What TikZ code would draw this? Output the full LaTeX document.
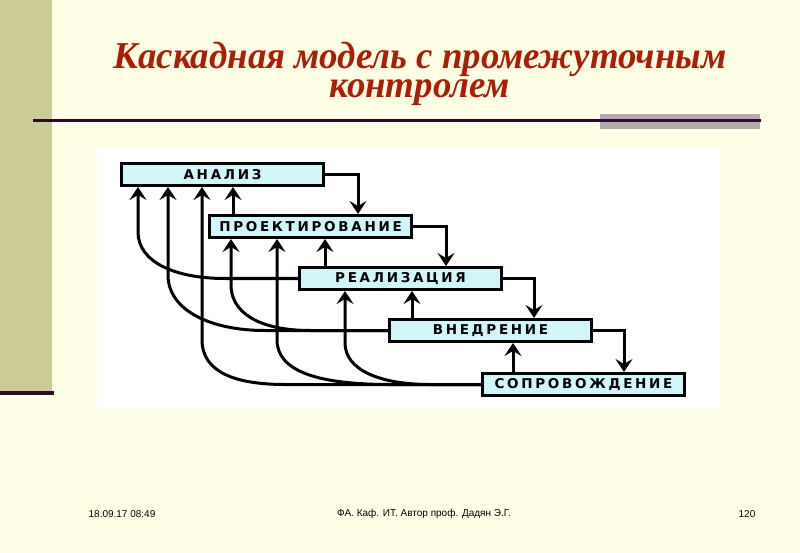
\documentclass[tikz,border=0pt]{standalone}
\usepackage{fontspec}
\setmainfont{Liberation Serif}
\newfontfamily\boxfont[LetterSpace=20]{DejaVu Sans}
\newfontfamily\footfont{Liberation Sans}
\usetikzlibrary{positioning,arrows.meta}

\definecolor{slidebg}{RGB}{255,255,229}
\definecolor{sidebar}{RGB}{204,204,153}
\definecolor{rulecol}{RGB}{43,10,43}
\definecolor{greybar}{RGB}{178,170,175}
\definecolor{titlered}{RGB}{170,30,8}
\definecolor{boxfill}{RGB}{208,246,250}

\begin{document}
\begin{tikzpicture}[x=1pt, y=-1pt, node distance=27pt,
    box/.style={draw, line width=3pt, fill=boxfill, minimum width=202pt, minimum height=22pt, inner sep=0pt, font=\boxfont\bfseries\fontsize{13.5}{13.5}\selectfont},
    arr/.style={draw, line width=3pt, -{Stealth[length=13pt, width=17pt, inset=5pt]}},
    title/.style={anchor=base, inner sep=0pt, text=titlered, xscale=0.97, font=\fontsize{38}{31}\selectfont\bfseries\itshape},
    foot/.style={font=\footfont\fontsize{10}{10}\selectfont}]
    % slide
    \useasboundingbox (0,0) rectangle (800,553);
    \fill[slidebg] (0,0) rectangle (800,553);
    \fill[sidebar] (0,0) rectangle (52,391);
    \fill[rulecol] (0,391) rectangle (54,395);
    \fill[greybar] (600,114) rectangle (760,129);
    \draw[rulecol, line width=3pt] (33,121) -- (761,121);
    \fill[white] (97,148) rectangle (720,409);

    % title
    \node[title] (head) at (420,69) {Каскадная модель с промежуточным};
    \node[title] (head2) at (420,98) {контролем};

    % stages
    \node[box] (ana) at (222.5,174.5) {АНАЛИЗ};
    \node[box, below=27pt of ana.south west, anchor=north west, xshift=88pt] (proj) {ПРОЕКТИРОВАНИЕ};
    \node[box, below=27pt of proj.south west, anchor=north west, xshift=90pt] (real) {РЕАЛИЗАЦИЯ};
    \node[box, below=27pt of real.south west, anchor=north west, xshift=90pt] (vned) {ВНЕДРЕНИЕ};
    \node[box, below=29pt of vned.south west, anchor=north west, xshift=93pt] (sopr) {СОПРОВОЖДЕНИЕ};

    % forward arrows
    \draw[arr] (ana.east) -| ([xshift=33pt]ana.east |- proj.north);
    \draw[arr] (proj.east) -| ([xshift=33pt]proj.east |- real.north);
    \draw[arr] (real.east) -| ([xshift=31pt]real.east |- vned.north);
    \draw[arr] (vned.east) -| ([xshift=31pt]vned.east |- sopr.north);

    % feedback arrows
    \draw[arr] (233,0 |- proj.north) -- (233,0 |- ana.south);
    \draw[arr] (325,0 |- real.north) -- (325,0 |- proj.south);
    \draw[arr] (412,0 |- vned.north) -- (412,0 |- real.south);
    \draw[arr] (513,0 |- sopr.north) -- (513,0 |- vned.south);
    \draw[arr] (real.west) -- (225,0 |- real.west) .. controls (175,0 |- real.west) and (138,262) .. (138,232) -- (138,0 |- ana.south);
    \draw[arr] (vned.west) -- (265,0 |- vned.west) .. controls (210,0 |- vned.west) and (168,310) .. (168,275) -- (168,0 |- ana.south);
    \draw[arr] (vned.west) -- (310,0 |- vned.west) .. controls (258,0 |- vned.west) and (231,312) .. (231,285) -- (231,0 |- proj.south);
    \draw[arr] (sopr.west) -- (285,0 |- sopr.west) .. controls (235,0 |- sopr.west) and (202,372) .. (202,340) -- (202,0 |- ana.south);
    \draw[arr] (sopr.west) -- (390,0 |- sopr.west) .. controls (320,0 |- sopr.west) and (277,372) .. (277,340) -- (277,0 |- proj.south);
    \draw[arr] (sopr.west) -- (430,0 |- sopr.west) .. controls (380,0 |- sopr.west) and (345,370) .. (345,343) -- (345,0 |- real.south);

    % footer
    \node[foot] (date) at (122,514) {18.09.17 08:49};
    \node[foot] (author) at (424,514) {ФА. Каф. ИТ. Автор проф. Дадян Э.Г.};
    \node[foot] (page) at (747,514) {120};
\end{tikzpicture}
\end{document}
